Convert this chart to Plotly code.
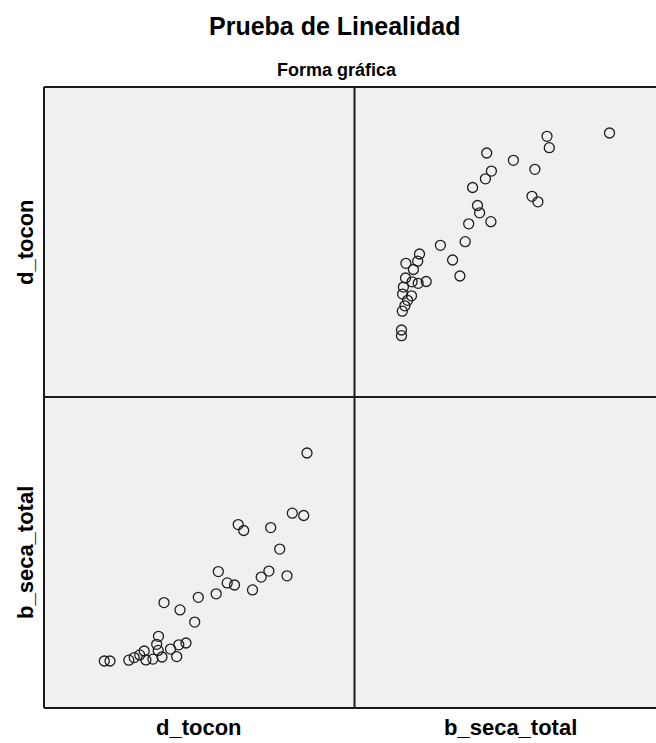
import plotly.graph_objects as go

W, H = 656, 743

# Data read from the scatterplot matrix
d_tocon = [26.35, 24.88, 26.02, 19.47, 20.02, 22.72, 23.62, 17.48, 22.54, 21.77,
           24.35, 18.37, 19.10, 20.90, 17.27, 15.48, 12.05, 13.65, 15.12, 11.50,
           11.32, 14.25, 13.53, 12.70, 11.47, 10.07, 9.62, 9.07, 8.53, 10.24,
           10.94, 11.85, 13.32, 6.08, 6.65]
b_seca_total = [127.5, 97.4, 96.25, 91.7, 88.75, 90.2, 79.45, 68.2, 68.45, 65.45,
                66.1, 62.55, 61.5, 59.05, 57.1, 55.35, 52.7, 49.05, 42.95, 35.85,
                31.85, 32.5, 31.6, 29.45, 28.8, 28.5, 26.55, 25.2, 23.9, 24.05,
                24.45, 25.5, 25.7, 23.5, 23.5]
variables = ["d_tocon", "b_seca_total"]
title = "Prueba de Linealidad"
subtitle = "Forma gráfica"

# frame geometry (pixels)
L, M, R = 44, 354.5, 656
T, MY, B = 87, 397, 708


def px(x):
    return x / W


def py(y):
    return 1 - y / H


marker = dict(symbol="circle-open", size=10, color="#1e1e1e",
              line=dict(width=1.3, color="#1e1e1e"))

fig = go.Figure()
# bottom-left: x = d_tocon, y = b_seca_total
fig.add_trace(go.Scatter(x=d_tocon, y=b_seca_total, mode="markers", marker=marker,
                         xaxis="x", yaxis="y", showlegend=False, hoverinfo="skip"))
# top-right: x = b_seca_total, y = d_tocon
fig.add_trace(go.Scatter(x=b_seca_total, y=d_tocon, mode="markers", marker=marker,
                         xaxis="x2", yaxis="y2", showlegend=False, hoverinfo="skip"))

hidden = dict(showgrid=False, zeroline=False, showticklabels=False, ticks="",
              showline=False, fixedrange=True)

fig.update_layout(
    width=W, height=H,
    margin=dict(l=0, r=0, t=0, b=0),
    paper_bgcolor="white",
    plot_bgcolor="rgba(0,0,0,0)",
    xaxis=dict(domain=[px(L), px(M)], range=[0.05, 31.1], anchor="y", **hidden),
    yaxis=dict(domain=[py(B), py(MY)], range=[0, 155.5], anchor="x", **hidden),
    xaxis2=dict(domain=[px(M), 1], range=[0, (R - M) * 0.5], anchor="y2", **hidden),
    yaxis2=dict(domain=[py(MY), py(T)], range=[-0.05, 30.95], anchor="x2", **hidden),
)

line_style = dict(color="#1a1a1a", width=2)
shapes = [
    dict(type="rect", xref="paper", yref="paper", x0=px(L), x1=1, y0=py(B), y1=py(T),
         fillcolor="#F0F0F0", line=dict(width=0), layer="below"),
    dict(type="line", xref="paper", yref="paper", x0=px(L), x1=1, y0=py(T), y1=py(T), line=line_style),
    dict(type="line", xref="paper", yref="paper", x0=px(L), x1=1, y0=py(MY), y1=py(MY), line=line_style),
    dict(type="line", xref="paper", yref="paper", x0=px(L), x1=1, y0=py(B), y1=py(B), line=line_style),
    dict(type="line", xref="paper", yref="paper", x0=px(L), x1=px(L), y0=py(B), y1=py(T), line=line_style),
    dict(type="line", xref="paper", yref="paper", x0=px(M), x1=px(M), y0=py(B), y1=py(T), line=line_style),
]
fig.update_layout(shapes=shapes)

font = "Liberation Sans, Arial, sans-serif"
ann = [
    dict(text="<b>%s</b>" % title, x=px(334), y=py(26), size=25),
    dict(text="<b>%s</b>" % subtitle, x=px(337), y=py(70), size=18),
    dict(text="<b>%s</b>" % variables[0], x=px(199), y=py(727), size=22),
    dict(text="<b>%s</b>" % variables[1], x=px(510), y=py(727), size=22),
]
annotations = []
for a in ann:
    annotations.append(dict(text=a["text"], x=a["x"], y=a["y"], xref="paper", yref="paper",
                            showarrow=False, xanchor="center", yanchor="middle",
                            font=dict(family=font, size=a["size"], color="#000")))
annotations.append(dict(text="<b>%s</b>" % variables[0], x=px(25), y=py(242), xref="paper",
                        yref="paper", showarrow=False, textangle=-90, xanchor="center",
                        yanchor="middle", font=dict(family=font, size=22, color="#000")))
annotations.append(dict(text="<b>%s</b>" % variables[1], x=px(25), y=py(553), xref="paper",
                        yref="paper", showarrow=False, textangle=-90, xanchor="center",
                        yanchor="middle", font=dict(family=font, size=22, color="#000")))
fig.update_layout(annotations=annotations)

fig.write_html("out.html")
